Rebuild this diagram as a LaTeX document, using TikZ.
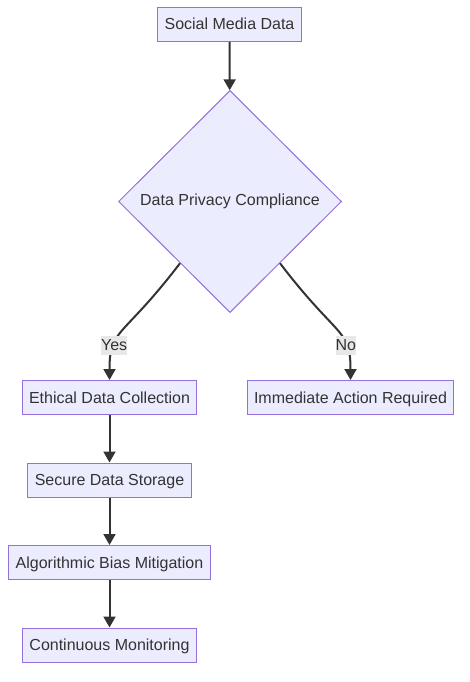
\documentclass[tikz,border=0pt]{standalone}
\usepackage{fontspec}
\setmainfont{Liberation Sans}
\usetikzlibrary{arrows.meta, shapes.geometric}

\definecolor{boxfill}{HTML}{ECECFF}
\definecolor{boxline}{HTML}{9370DB}
\definecolor{ink}{HTML}{333333}
\definecolor{lblfill}{HTML}{E8E8E8}

\tikzset{
    box/.style={draw=boxline, fill=boxfill, line width=1pt, text=ink, minimum height=34pt, text height=13pt, text depth=2pt, inner xsep=7pt, font=\fontsize{16}{19}\selectfont},
    choice/.style={diamond, draw=boxline, fill=boxfill, line width=1pt, text=ink, aspect=1, inner sep=0pt, minimum width=223pt, minimum height=222pt, font=\fontsize{16}{19}\selectfont},
    flow/.style={draw=ink, line width=2pt, -{Triangle[length=11pt, width=12pt]}},
    lbl/.style={fill=lblfill, text=ink, inner xsep=0pt, inner ysep=2pt, minimum height=19pt, text height=12pt, text depth=2pt, font=\fontsize{16}{19}\selectfont}
}

\begin{document}
\begin{tikzpicture}[x=1pt, y=-1pt]
            \useasboundingbox (0,0) rectangle (469,682);

            \node[box] (social) at (229.5,24.5) {Social Media Data};
            \node[choice] (dec) at (230,201.5) {Data Privacy Compliance};
            \node[box] (action) at (350.5,397.5) {Immediate Action Required};

            \foreach \n/\y/\t in {ethical/397.5/Ethical Data Collection, storage/480/Secure Data Storage, bias/562.5/Algorithmic Bias Mitigation, monitor/645/Continuous Monitoring} {
                \node[box] (\n) at (109.5,\y) {\t};
            }

            \foreach \a/\b in {social/dec, ethical/storage, storage/bias, bias/monitor} {
                \draw[flow] (\a) -- (\b);
            }

            \draw[flow] (dec.-129) .. controls +(-58,76) and +(0,-52) .. (ethical.north) node[lbl, pos=0.69] (yes) {Yes};
            \draw[flow] (dec.-51) .. controls +(58,76) and +(0,-52) .. (action.north) node[lbl, pos=0.69] (no) {No};

        \end{tikzpicture}
\end{document}
